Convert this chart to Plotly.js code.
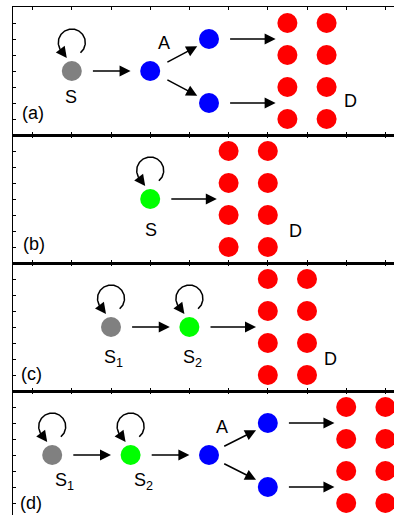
<!DOCTYPE html>
<html><head><meta charset="utf-8">
<script src="https://cdn.plot.ly/plotly-3.0.1.min.js"></script>
<style>html,body{margin:0;padding:0;overflow:hidden;background:#fff}#chart{width:406px;height:520px}</style>
</head><body><div id="chart"></div>
<script>
// ---------- Panel (a) ----------
const aNodeX = [1.5, 3.5, 5, 5, 7, 7, 7, 7, 8, 8, 8, 8];
const aNodeY = [4, 4, 6, 2, 7, 5, 3, 1, 7, 5, 3, 1];
const aNodeKind = ['S1', 'A', 'R', 'R', 'D', 'D', 'D', 'D', 'D', 'D', 'D', 'D'];
const aArrowFromX = [2.0, 3.9, 3.9, 5.5, 5.5];
const aArrowFromY = [4, 4.5, 3.5, 6, 2];
const aArrowToX = [3.0, 4.7, 4.7, 6.7, 6.7];
const aArrowToY = [4, 5.55, 2.45, 6, 2];
const aLabelText = ['S', 'A', 'D', '(a)'];
const aLabelX = [1.48, 3.85, 8.61, 0.51];
const aLabelY = [2.39, 5.78, 2.14, 1.36];

// ---------- Panel (b) ----------
const bNodeX = [3.5, 5.5, 5.5, 5.5, 5.5, 6.5, 6.5, 6.5, 6.5];
const bNodeY = [4, 7, 5, 3, 1, 7, 5, 3, 1];
const bNodeKind = ['S2', 'D', 'D', 'D', 'D', 'D', 'D', 'D', 'D'];
const bArrowFromX = [4.0];
const bArrowFromY = [4];
const bArrowToX = [5.2];
const bArrowToY = [4];
const bLabelText = ['S', 'D', '(b)'];
const bLabelX = [3.52, 7.21, 0.54];
const bLabelY = [2.08, 1.98, 1.19];

// ---------- Panel (c) ----------
const cNodeX = [2.5, 4.5, 6.5, 6.5, 6.5, 6.5, 7.5, 7.5, 7.5, 7.5];
const cNodeY = [4, 4, 7, 5, 3, 1, 7, 5, 3, 1];
const cNodeKind = ['S1', 'S2', 'D', 'D', 'D', 'D', 'D', 'D', 'D', 'D'];
const cArrowFromX = [3.0, 5.0];
const cArrowFromY = [4, 4];
const cArrowToX = [4.0, 6.2];
const cArrowToY = [4, 4];
const cLabelText = ['S<sub>1</sub>', 'S<sub>2</sub>', 'D', '(c)'];
const cLabelX = [2.56, 4.57, 8.11, 0.48];
const cLabelY = [2.06, 2.06, 2.0, 1.06];

// ---------- Panel (d) ----------
const dNodeX = [1, 3, 5, 6.5, 6.5, 8.5, 8.5, 8.5, 8.5, 9.5, 9.5, 9.5, 9.5];
const dNodeY = [4, 4, 4, 6, 2, 7, 5, 3, 1, 7, 5, 3, 1];
const dNodeKind = ['S1', 'S2', 'A', 'R', 'R', 'D', 'D', 'D', 'D', 'D', 'D', 'D', 'D'];
const dArrowFromX = [1.5, 3.5, 5.35, 5.35, 7.0, 7.0];
const dArrowFromY = [4, 4, 4.5, 3.5, 6, 2];
const dArrowToX = [2.5, 4.5, 6.2, 6.2, 8.2, 8.2];
const dArrowToY = [4, 4, 5.55, 2.45, 6, 2];
const dLabelText = ['S<sub>1</sub>', 'S<sub>2</sub>', 'A', '(d)'];
const dLabelX = [1.31, 3.33, 5.34, 0.47];
const dLabelY = [2.36, 2.36, 5.77, 1.03];

// axis ticks
const xTickVals = [0.5, 1.5, 2.5, 3.5, 4.5, 5.5, 6.5, 7.5, 8.5, 9.5];
const yTickVals = [1, 2, 3, 4, 5, 6, 7];

// ---------- styling / build ----------
const W = 406, H = 520, ML = 13, MR = 1, MT = 7, MB = 1;
const X_RANGE = [0, 10], Y_RANGE = [0, 8];
const PX_X = (W - ML - MR) / (X_RANGE[1] - X_RANGE[0]);
const PX_Y = (H - MT - MB) / 4 / (Y_RANGE[1] - Y_RANGE[0]);
const kindColor = {S1: '#808080', S2: '#00ff00', A: '#0000ff', R: '#0000ff', D: '#ff0000'};
const FONT = {family: 'Liberation Sans, Arial, Helvetica, sans-serif', size: 18, color: '#000'};

const panels = [
  {nx: aNodeX, ny: aNodeY, nk: aNodeKind, fx: aArrowFromX, fy: aArrowFromY, tx: aArrowToX, ty: aArrowToY, lt: aLabelText, lx: aLabelX, ly: aLabelY},
  {nx: bNodeX, ny: bNodeY, nk: bNodeKind, fx: bArrowFromX, fy: bArrowFromY, tx: bArrowToX, ty: bArrowToY, lt: bLabelText, lx: bLabelX, ly: bLabelY},
  {nx: cNodeX, ny: cNodeY, nk: cNodeKind, fx: cArrowFromX, fy: cArrowFromY, tx: cArrowToX, ty: cArrowToY, lt: cLabelText, lx: cLabelX, ly: cLabelY},
  {nx: dNodeX, ny: dNodeY, nk: dNodeKind, fx: dArrowFromX, fy: dArrowFromY, tx: dArrowToX, ty: dArrowToY, lt: dLabelText, lx: dLabelX, ly: dLabelY}
];

const traces = [];
const annotations = [];
const layout = {
  width: W, height: H,
  margin: {l: ML, r: MR, t: MT, b: MB, pad: 0},
  paper_bgcolor: '#fff', plot_bgcolor: '#fff',
  showlegend: false,
  font: FONT
};

const arrowStyle = {showarrow: true, text: '', arrowhead: 2, arrowsize: 1.47, arrowwidth: 1.5, arrowcolor: '#000', standoff: 0, startstandoff: 0};

panels.forEach((p, i) => {
  const suf = i === 0 ? '' : String(i + 1);
  const xr = 'x' + suf, yr = 'y' + suf;
  const axCommon = {
    showgrid: false, zeroline: false, showline: true, linecolor: '#000', linewidth: 1.5,
    mirror: 'ticks', ticks: 'inside', ticklen: 3, tickwidth: 1, tickcolor: '#000',
    showticklabels: false, tickmode: 'array', fixedrange: true
  };
  layout['xaxis' + suf] = Object.assign({}, axCommon, {range: X_RANGE, tickvals: xTickVals, anchor: yr, domain: [0, 1]});
  layout['yaxis' + suf] = Object.assign({}, axCommon, {range: Y_RANGE, tickvals: yTickVals, anchor: xr, domain: [(3 - i) / 4, (4 - i) / 4]});

  // self loops on source nodes
  p.nk.forEach((k, j) => {
    if (k !== 'S1' && k !== 'S2') return;
    const cx = p.nx[j], cy = p.ny[j];
    const off = 28.5, r = 13.5;
    const lxs = [], lys = [];
    for (let deg = -50; deg <= 228; deg += 2) {
      const t = deg * Math.PI / 180;
      lxs.push(cx + r * Math.cos(t) / PX_X);
      lys.push(cy + (off + r * Math.sin(t)) / PX_Y);
    }
    traces.push({type: 'scatter', mode: 'lines', x: lxs, y: lys, xaxis: xr, yaxis: yr,
      line: {color: '#000', width: 1.5}, hoverinfo: 'skip'});
    annotations.push(Object.assign({}, arrowStyle, {
      xref: xr, yref: yr, axref: xr, ayref: yr,
      ax: lxs[lxs.length - 1], ay: lys[lys.length - 1],
      x: cx - 5 / PX_X, y: cy + (off - 15.5) / PX_Y
    }));
  });

  // nodes
  traces.push({type: 'scatter', mode: 'markers', x: p.nx, y: p.ny, xaxis: xr, yaxis: yr,
    marker: {size: 20, color: p.nk.map(k => kindColor[k]), line: {width: 0}}, hoverinfo: 'skip', cliponaxis: false});

  // arrows
  p.fx.forEach((v, j) => {
    annotations.push(Object.assign({}, arrowStyle, {
      xref: xr, yref: yr, axref: xr, ayref: yr,
      ax: p.fx[j], ay: p.fy[j], x: p.tx[j], y: p.ty[j]
    }));
  });

  // labels
  p.lt.forEach((t, j) => {
    annotations.push({xref: xr, yref: yr, x: p.lx[j], y: p.ly[j], text: t, showarrow: false,
      xanchor: 'center', yanchor: 'middle', font: FONT});
  });
});

layout.annotations = annotations;
Plotly.newPlot('chart', traces, layout, {staticPlot: true, displayModeBar: false});
</script>
</body></html>
